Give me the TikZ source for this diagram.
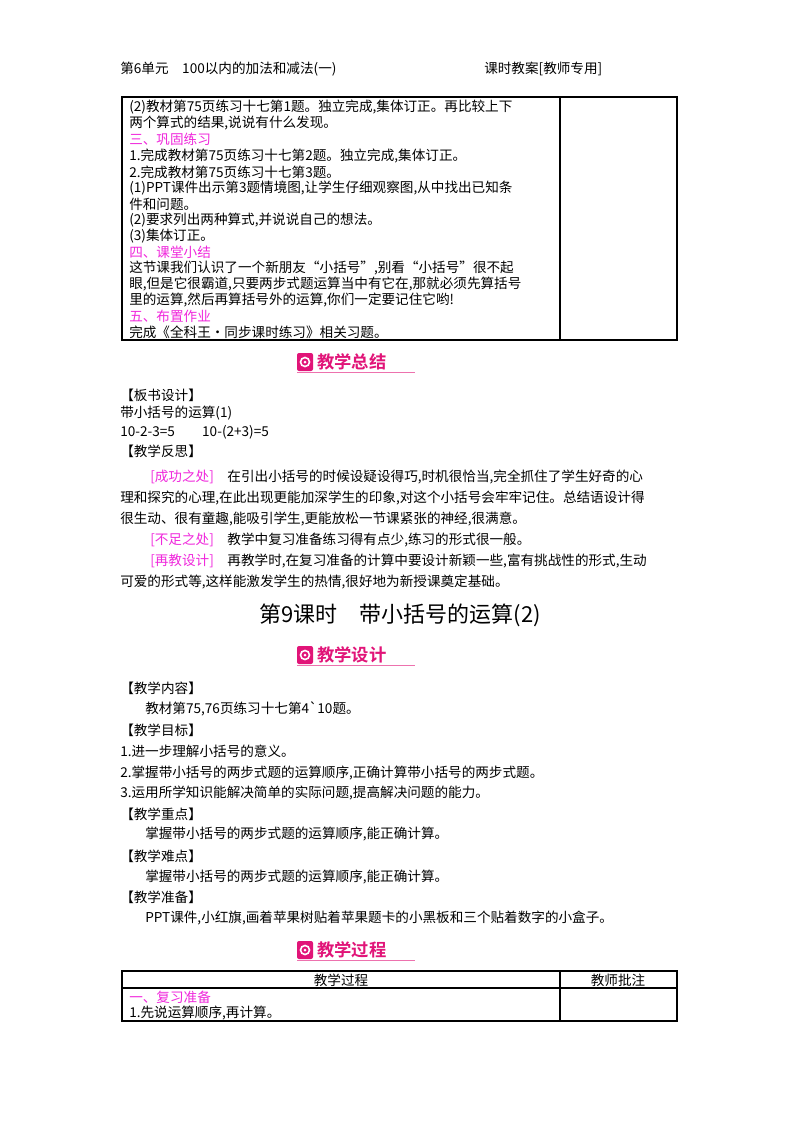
\documentclass[tikz,border=0pt]{standalone}
\usepackage{fontspec}
\setmainfont{Noto Sans CJK SC}
\newfontfamily\cjkb{Noto Sans CJK SC Bold}
\definecolor{pk}{RGB}{240,40,220}
\definecolor{badge}{RGB}{225,20,120}
\begin{document}
\begin{tikzpicture}[x=0.75pt,y=-0.75pt,
 txt/.style={anchor=west,inner sep=0pt,font=\fontsize{10.2pt}{11pt}\selectfont},
 hd/.style={txt,text=pk},
 tbl/.style={line width=0.9pt},
 bt/.style={anchor=west,inner sep=0pt,text=badge,font=\cjkb\fontsize{13pt}{14pt}\selectfont}]
\useasboundingbox[fill=white] (0,0) rectangle (800,1132);
\newcommand\badge[3]{%
 \fill[badge,rounded corners=1.5pt] (#1,#2-9) rectangle (#1+16,#2+9);
 \draw[white,line width=1.2pt] (#1+8,#2) circle (4.5);
 \fill[white] (#1+8,#2) circle (1.5);
 \node[bt] (#3) at (#1+20,#2) {};
 \draw[badge!60,line width=0.6pt] (#1,#2+10.5) -- (#1+118,#2+10.5);}
% header
\node[txt] (h1) at (120,69) {第6单元\quad 100以内的加法和减法(一)};
\node[txt] (h2) at (484,69) {课时教案[教师专用]};
% top table
\draw[tbl] (122,97) rectangle (677,340);
\draw[tbl] (560,97) -- (560,340);
\node[txt] at (129,107) {(2)教材第75页练习十七第1题。独立完成,集体订正。再比较上下};
\node[txt] at (129,123) {两个算式的结果,说说有什么发现。};
\node[hd] at (129,139) {三、巩固练习};
\node[txt] at (129,156) {1.完成教材第75页练习十七第2题。独立完成,集体订正。};
\node[txt] at (129,172) {2.完成教材第75页练习十七第3题。};
\node[txt] at (129,188) {(1)PPT课件出示第3题情境图,让学生仔细观察图,从中找出已知条};
\node[txt] at (129,204) {件和问题。};
\node[txt] at (129,220) {(2)要求列出两种算式,并说说自己的想法。};
\node[txt] at (129,236) {(3)集体订正。};
\node[hd] at (129,252) {四、课堂小结};
\node[txt] at (129,268) {这节课我们认识了一个新朋友“小括号”,别看“小括号”很不起};
\node[txt] at (129,284) {眼,但是它很霸道,只要两步式题运算当中有它在,那就必须先算括号};
\node[txt] at (129,300) {里的运算,然后再算括号外的运算,你们一定要记住它哟!};
\node[hd] at (129,316) {五、布置作业};
\node[txt] at (129,332) {完成《全科王·同步课时练习》相关习题。};
% badge 1
\badge{297}{362}{b1}
\node[bt] at (317,362) {教学总结};
\node[txt] at (120,395) {【板书设计】};
\node[txt] at (120,413) {带小括号的运算(1)};
\node[txt] at (120,432) {10-2-3=5\qquad 10-(2+3)=5};
\node[txt] at (120,451) {【教学反思】};
\node[txt] at (150,477) {\textcolor{pk}{[成功之处]}\quad 在引出小括号的时候设疑设得巧,时机很恰当,完全抓住了学生好奇的心};
\node[txt] at (120,498) {理和探究的心理,在此出现更能加深学生的印象,对这个小括号会牢牢记住。总结语设计得};
\node[txt] at (120,519) {很生动、很有童趣,能吸引学生,更能放松一节课紧张的神经,很满意。};
\node[txt] at (150,540) {\textcolor{pk}{[不足之处]}\quad 教学中复习准备练习得有点少,练习的形式很一般。};
\node[txt] at (150,561) {\textcolor{pk}{[再教设计]}\quad 再教学时,在复习准备的计算中要设计新颖一些,富有挑战性的形式,生动};
\node[txt] at (120,582) {可爱的形式等,这样能激发学生的热情,很好地为新授课奠定基础。};
\node[anchor=center,inner sep=0pt,font=\fontsize{16.5pt}{18pt}\selectfont] (title) at (400,615) {第9课时\quad 带小括号的运算(2)};
\badge{297}{655}{b2}
\node[bt] at (317,655) {教学设计};
\node[txt] at (120,688) {【教学内容】};
\node[txt] at (145,709) {教材第75,76页练习十七第4\textasciigrave10题。};
\node[txt] at (120,730) {【教学目标】};
\node[txt] at (120,751) {1.进一步理解小括号的意义。};
\node[txt] at (120,773) {2.掌握带小括号的两步式题的运算顺序,正确计算带小括号的两步式题。};
\node[txt] at (120,793) {3.运用所学知识能解决简单的实际问题,提高解决问题的能力。};
\node[txt] at (120,814) {【教学重点】};
\node[txt] at (145,834) {掌握带小括号的两步式题的运算顺序,能正确计算。};
\node[txt] at (120,856) {【教学难点】};
\node[txt] at (145,877) {掌握带小括号的两步式题的运算顺序,能正确计算。};
\node[txt] at (120,897) {【教学准备】};
\node[txt] at (145,918) {PPT课件,小红旗,画着苹果树贴着苹果题卡的小黑板和三个贴着数字的小盒子。};
\badge{297}{950}{b3}
\node[bt] at (317,950) {教学过程};
\draw[tbl] (122,971) rectangle (677,1021);
\draw[tbl] (560,971) -- (560,1021);
\draw[tbl] (122,988) -- (677,988);
\node[anchor=center,inner sep=0pt,font=\fontsize{10.2pt}{11pt}\selectfont] (c1) at (341,980) {教学过程};
\node[anchor=center,inner sep=0pt,font=\fontsize{10.2pt}{11pt}\selectfont] (c2) at (618,980) {教师批注};
\node[hd] at (129,997) {一、复习准备};
\node[txt] at (129,1013) {1.先说运算顺序,再计算。};
\end{tikzpicture}
\end{document}
